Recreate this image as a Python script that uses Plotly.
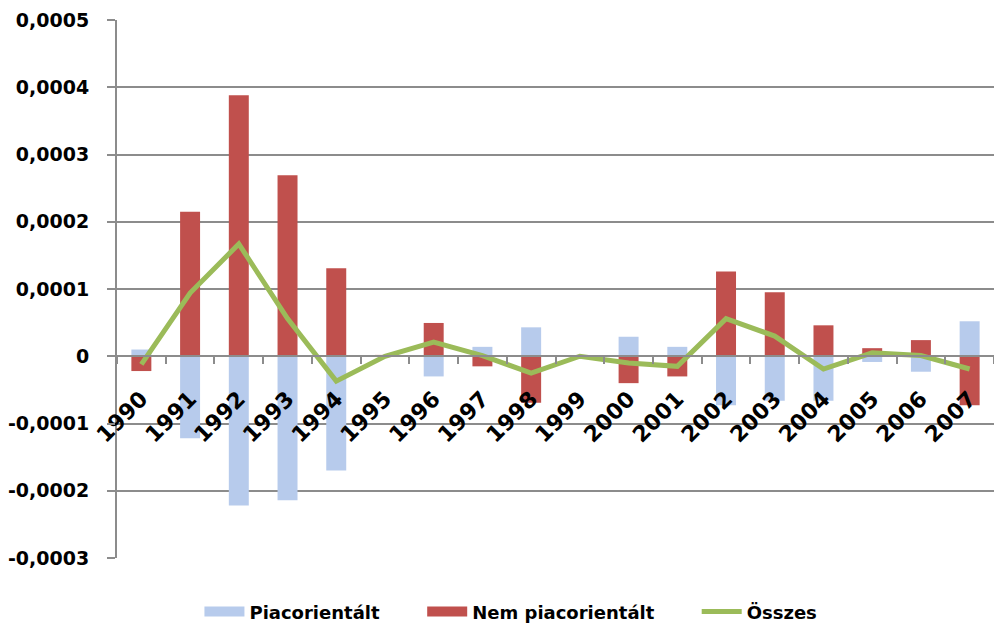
import plotly.graph_objects as go

years = [str(y) for y in range(1990, 2008)]

# Piacorientált (market oriented)
piac = [0.000010, -0.000122, -0.000222, -0.000214, -0.000170, 0.000000,
        -0.000030, 0.000014, 0.000043, 0.000000, 0.000029, 0.000014,
        -0.000073, -0.000066, -0.000066, -0.0000085, -0.000023, 0.000052]

# Nem piacorientált (non market oriented)
nem_piac = [-0.000022, 0.000215, 0.000388, 0.000269, 0.000131, 0.000002,
            0.0000495, -0.000015, -0.000069, 0.000000, -0.000040, -0.000030,
            0.000126, 0.000095, 0.000046, 0.000012, 0.000024, -0.000073]

# Összes (total)
osszes = [-0.000012, 0.000094, 0.000167, 0.000056, -0.000037, 0.000000,
          0.000021, 0.000001, -0.000025, 0.000000, -0.000010, -0.000015,
          0.000056, 0.000030, -0.000019, 0.000005, 0.000001, -0.000019]

y_ticks = [-0.0003, -0.0002, -0.0001, 0, 0.0001, 0.0002, 0.0003, 0.0004, 0.0005]
y_tick_text = ["-0,0003", "-0,0002", "-0,0001", "0", "0,0001", "0,0002",
               "0,0003", "0,0004", "0,0005"]

FONT = "DejaVu Sans"
GRID = "#8c8c8c"
BLUE = "#b7cbec"
RED = "#c0504d"
GREEN = "#9bbb59"

bold = dict(family=FONT, size=18, color="black", weight="bold")

fig = go.Figure()
fig.add_trace(go.Bar(
    x=years, y=piac, name="Piacorientált", showlegend=False,
    marker=dict(color=BLUE, line_width=0),
))
fig.add_trace(go.Bar(
    x=years, y=nem_piac, name="Nem piacorientált", showlegend=False,
    marker=dict(color=RED, line_width=0),
))
fig.add_trace(go.Scatter(
    x=years, y=osszes, name="Összes", mode="lines", legend="legend3",
    line=dict(color=GREEN, width=5),
))
# legend swatches for the bars (Excel draws them as wide rectangles)
fig.add_trace(go.Scatter(
    x=[None], y=[None], name="Piacorientált", mode="lines", legend="legend",
    line=dict(color=BLUE, width=12),
))
fig.add_trace(go.Scatter(
    x=[None], y=[None], name="Nem piacorientált", mode="lines", legend="legend2",
    line=dict(color=RED, width=12),
))

leg = dict(orientation="h", xanchor="left", y=-0.1, yanchor="middle",
           font=bold, itemwidth=40, bgcolor="rgba(0,0,0,0)")

fig.update_layout(
    width=994, height=626,
    margin=dict(l=117, r=0, t=20, b=68, autoexpand=False),
    paper_bgcolor="white", plot_bgcolor="white",
    barmode="relative", bargap=0.59,
    font=bold,
    legend=dict(leg, x=0.094),
    legend2=dict(leg, x=0.348),
    legend3=dict(leg, x=0.661),
)
fig.update_yaxes(
    range=[-0.0003, 0.0005], tickvals=y_ticks, ticktext=y_tick_text,
    showgrid=True, gridcolor=GRID, gridwidth=2,
    showline=True, linecolor=GRID, linewidth=2,
    ticks="outside", ticklen=8, tickcolor=GRID, tickwidth=2,
    zeroline=False, ticklabelstandoff=14, automargin=False,
    tickfont=dict(bold, size=19),
)
fig.update_xaxes(
    type="category", anchor="free", position=0.375,
    showline=True, linecolor=GRID, linewidth=2,
    ticks="outside", ticklen=7, tickcolor=GRID, tickwidth=2,
    tickson="boundaries", tickangle=-45, showgrid=False, automargin=False,
    ticklabelstandoff=20,
    tickfont=dict(bold, size=22),
)

fig.write_html(
    "out.html",
    config={"displayModeBar": False},
    post_script="document.body.style.margin='0';",
)
